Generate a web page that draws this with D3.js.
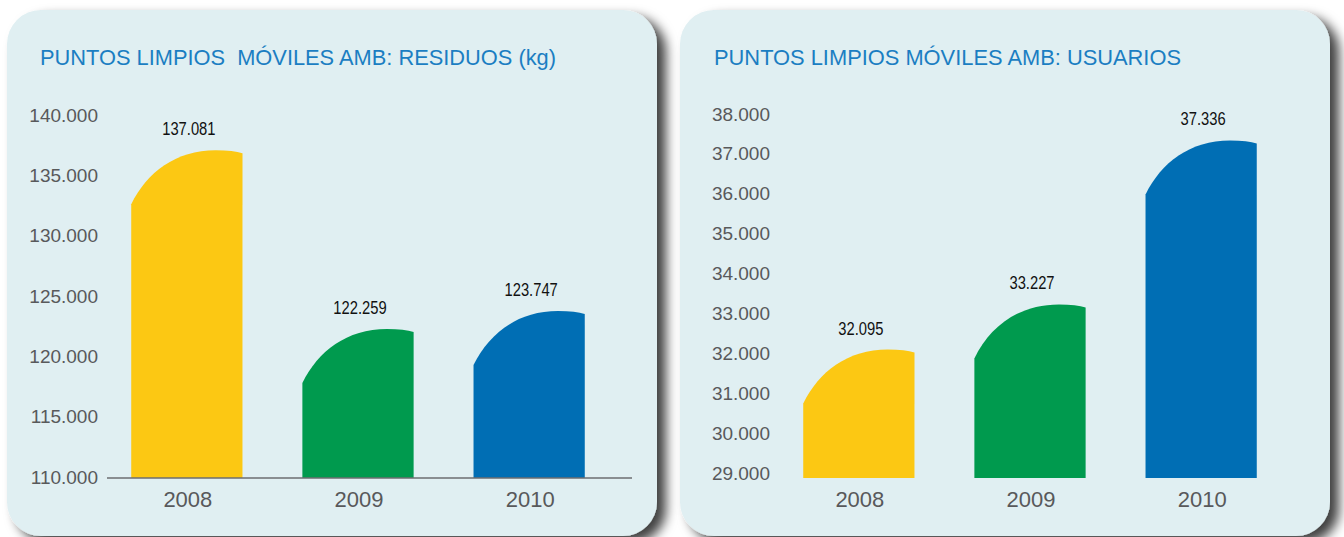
<!DOCTYPE html>
<html>
<head>
<meta charset="utf-8">
<script src="https://cdn.jsdelivr.net/npm/d3@7"></script>
<style>
  html, body { margin: 0; padding: 0; background: #fff; }
  svg { display: block; }
</style>
</head>
<body>
<div id="vis"></div>
<script>
//#region data
const years = ["2008", "2009", "2010"];
const residuos = [137081, 122259, 123747];
const usuarios = [32095, 33227, 37336];
const residuosTicks = [110000, 115000, 120000, 125000, 130000, 135000, 140000];
const usuariosTicks = [29000, 30000, 31000, 32000, 33000, 34000, 35000, 36000, 37000, 38000];
const barColors = ["#fcc813", "#009a4e", "#006eb4"];
const titles = ["PUNTOS LIMPIOS  MÓVILES AMB: RESIDUOS (kg)", "PUNTOS LIMPIOS MÓVILES AMB: USUARIOS"];
//#endregion

const W = 1344, H = 537;
const locale = d3.formatLocale({ decimal: ",", thousands: ".", grouping: [3], currency: ["", "€"] });
const fmt = locale.format(",d");

const svg = d3.select("#vis")
  .append("svg")
    .attr("width", W)
    .attr("height", H);

const defs = svg.append("defs");
const shadow = defs.append("filter")
  .attr("id", "shadow")
  .attr("x", "-10%").attr("y", "-10%")
  .attr("width", "130%").attr("height", "130%");
shadow.append("feDropShadow")
  .attr("dx", 9).attr("dy", 7)
  .attr("stdDeviation", 6)
  .attr("flood-color", "#000")
  .attr("flood-opacity", 0.75);

// bar with a rounded, slanted top
function barPath(x0, w, top, base) {
  const drop = 54;
  return `M${x0},${base} L${x0},${top + drop}
    C${x0 + w * 0.14},${top + 22} ${x0 + w * 0.4},${top} ${x0 + w * 0.76},${top}
    Q${x0 + w * 0.92},${top} ${x0 + w},${top + 3}
    L${x0 + w},${base} Z`;
}

// squeeze value labels to look like a narrow face
const narrowLen = s => s.replace(/\D/g, "").length * 8.2 + 4.1;

function drawPanel(cfg) {
  const g = svg.append("g");

  g.append("rect")
    .attr("x", cfg.px).attr("y", 10)
    .attr("width", 650).attr("height", 526)
    .attr("rx", 34).attr("ry", 34)
    .attr("fill", "#e0eff2")
    .attr("filter", "url(#shadow)");

  g.append("text")
    .attr("x", cfg.titleX).attr("y", 65)
    .attr("font-family", "Liberation Sans, Arial, sans-serif")
    .attr("font-size", 22)
    .attr("fill", "#1b7ec2")
    .attr("textLength", cfg.titleLen)
    .attr("lengthAdjust", "spacingAndGlyphs")
    .style("white-space", "pre")
    .text(cfg.title);

  const x = d3.scaleBand()
    .domain(years)
    .range(cfg.xRange)
    .paddingInner(0.35)
    .paddingOuter(0.2);

  const y = d3.scaleLinear()
    .domain(d3.extent(cfg.ticks))
    .range(cfg.yRange);

  const base = cfg.base;

  const yAxis = d3.axisLeft(y)
    .tickValues(cfg.ticks)
    .tickSize(0)
    .tickPadding(0)
    .tickFormat(fmt);

  const ya = g.append("g")
    .attr("transform", `translate(${cfg.tickX},0)`)
    .call(yAxis);
  ya.select(".domain").remove();
  ya.selectAll("text")
    .attr("font-family", "Liberation Sans, Arial, sans-serif")
    .attr("font-size", 19)
    .attr("fill", "#58595b");

  g.append("g")
    .selectAll("path")
    .data(cfg.values)
    .join("path")
      .attr("fill", (d, i) => barColors[i])
      .attr("d", (d, i) => barPath(x(years[i]), x.bandwidth(), y(d), base));

  g.append("g")
    .selectAll("text")
    .data(cfg.values)
    .join("text")
      .attr("x", (d, i) => x(years[i]) + x.bandwidth() / 2 + 2)
      .attr("y", d => y(d) - 15)
      .attr("text-anchor", "middle")
      .attr("font-family", "Liberation Sans, Arial, sans-serif")
      .attr("font-size", 18)
      .attr("fill", "#111")
      .attr("textLength", d => narrowLen(fmt(d)))
      .attr("lengthAdjust", "spacingAndGlyphs")
      .text(d => fmt(d));

  if (cfg.baseLine) {
    g.append("line")
      .attr("x1", cfg.baseLine[0]).attr("x2", cfg.baseLine[1])
      .attr("y1", base).attr("y2", base)
      .attr("stroke", "#6d6e71")
      .attr("stroke-width", 1.6);
  }

  const xAxis = d3.axisBottom(x)
    .tickSize(0)
    .tickPadding(13);

  const xa = g.append("g")
    .attr("transform", `translate(1,${base})`)
    .call(xAxis);
  xa.select(".domain").remove();
  xa.selectAll("text")
    .attr("font-family", "Liberation Sans, Arial, sans-serif")
    .attr("font-size", 22)
    .attr("fill", "#58595b");
}

drawPanel({
  px: 7,
  title: titles[0],
  titleX: 40,
  titleLen: 516,
  values: residuos,
  ticks: residuosTicks,
  xRange: [97, 619],
  yRange: [477, 115],
  base: 478,
  tickX: 98,
  baseLine: [107, 632]
});

drawPanel({
  px: 680,
  title: titles[1],
  titleX: 714,
  titleLen: 467,
  values: usuarios,
  ticks: usuariosTicks,
  xRange: [769, 1291],
  yRange: [473, 114],
  base: 478,
  tickX: 770,
  baseLine: null
});
</script>
</body>
</html>
